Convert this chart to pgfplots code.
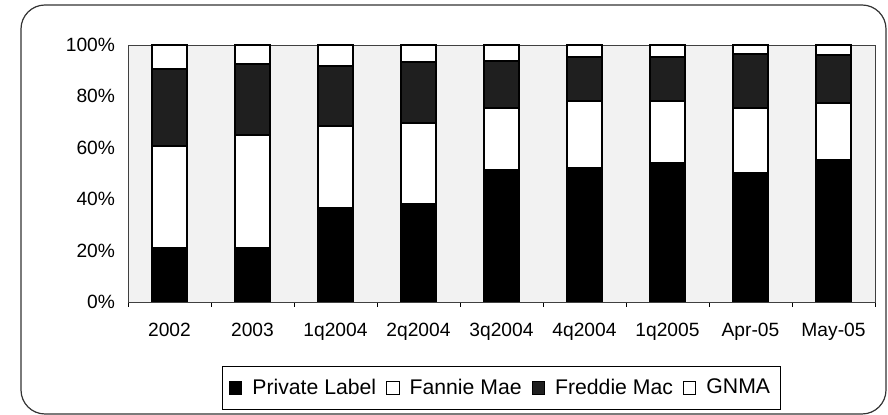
\documentclass[border=0pt]{standalone}
\usepackage{pgfplots}
\pgfplotsset{compat=1.18}
\usepackage{fontspec}
\setmainfont{Liberation Sans}
\definecolor{freddie}{gray}{0.12}
\definecolor{plotbg}{gray}{0.95}
\begin{document}
\begin{tikzpicture}[x=1pt,y=1pt]
\useasboundingbox (0,0) rectangle (444,207.5);
\draw[black!80, line width=0.6pt, rounded corners=12pt] (10.5,0.5) rectangle (443,205);
\begin{axis}[
  at={(64pt,56.5pt)}, anchor=south west,
  scale only axis, width=373.5pt, height=128.5pt,
  ybar stacked, bar width=17.5pt,
  xmin=-0.5, xmax=8.5, ymin=0, ymax=100,
  xtick={0,...,8},
  xticklabels={2002,2003,1q2004,2q2004,3q2004,4q2004,1q2005,Apr-05,May-05},
  minor xtick={-0.5,0.5,...,8.5},
  ytick={0,20,...,100},
  yticklabel={\pgfmathprintnumber{\tick}\%},
  /pgf/number format/assume math mode=true,
  major tick length=0pt, minor tick length=2.5pt,
  tick align=outside, tick pos=left,
  tick style={black},
  axis line style={black!75},
  axis background/.style={fill=plotbg},
  tick label style={font=\fontsize{9.6}{11}\selectfont},
  xticklabel style={yshift=-7pt},
  yticklabel style={xshift=-3pt},
  legend columns=4,
  legend style={at={(0.5,-0.335)}, anchor=center, draw=black, line width=0.5pt,
    font=\fontsize{10.6}{13}\selectfont, inner xsep=3pt, inner ysep=4pt,
    /tikz/every even column/.style={column sep=3pt}},
  legend image code/.code={\draw[#1,draw=black,line width=0.5pt] (0pt,-3.1pt) rectangle (6.2pt,3.1pt); \path[draw=none,fill=none] (0pt,0pt) -- (9.5pt,0pt);},
]
\addplot[fill=black, draw=black, line width=0.9pt] coordinates {(0,20.9) (1,20.9) (2,36.7) (3,38.1) (4,51.3) (5,52.2) (6,54.1) (7,50.1) (8,55.1)};
\addplot[fill=white, draw=black, line width=0.9pt] coordinates {(0,39.7) (1,44.0) (2,31.7) (3,31.7) (4,24.3) (5,25.9) (6,24.0) (7,25.3) (8,22.2)};
\addplot[fill=freddie, draw=black, line width=0.9pt] coordinates {(0,30.2) (1,27.6) (2,23.3) (3,23.5) (4,18.2) (5,17.2) (6,17.2) (7,21.0) (8,18.7)};
\addplot[fill=white, draw=black, line width=0.9pt] coordinates {(0,9.2) (1,7.5) (2,8.3) (3,6.7) (4,6.2) (5,4.7) (6,4.7) (7,3.6) (8,4.0)};
\legend{Private Label,Fannie Mae,Freddie Mac,GNMA}
\end{axis}
\end{tikzpicture}
\end{document}
